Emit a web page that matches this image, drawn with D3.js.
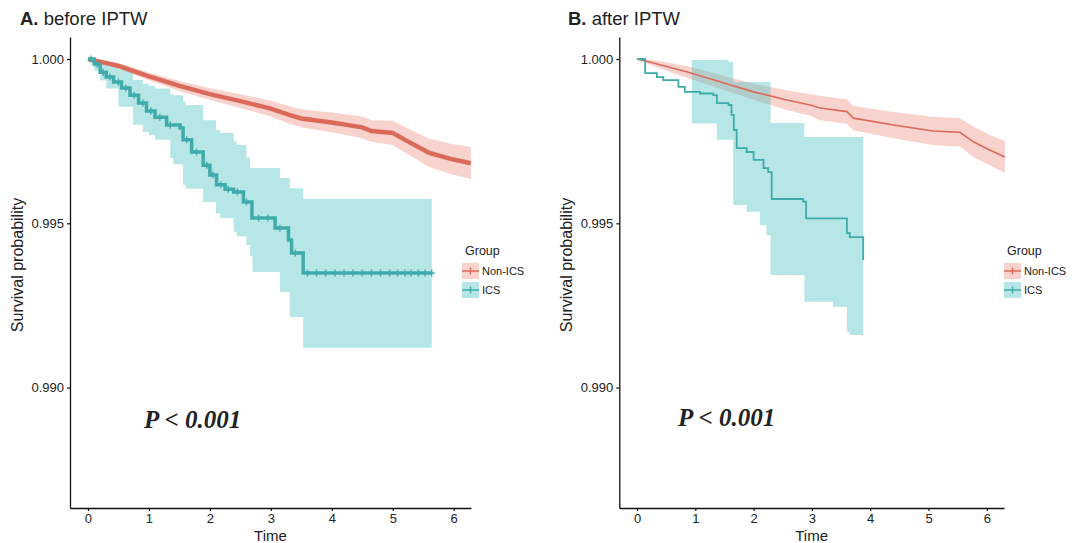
<!DOCTYPE html>
<html>
<head>
<meta charset="utf-8">
<script src="https://cdn.jsdelivr.net/npm/d3@7"></script>
<style>
  body { margin: 0; background: #fff; }
  svg { display: block; }
  text { font-family: "Liberation Sans", Arial, sans-serif; fill: #222; }
</style>
</head>
<body>
<svg width="1075" height="543"></svg>
<script>
// ---- panel A: before IPTW ----
var timeA_non = [0, 0.5, 1.0, 1.5, 2.0, 2.5, 3.0, 3.3, 3.5, 4.0, 4.5, 4.65, 5.0, 5.3, 5.6, 5.95, 6.28];
var survA_non = [1.0, .99979, .99947, .99918, .99893, .99872, .99849, .99830, .99819, .99807, .99792, .99781, .99775, .99744, .99714, .99696, .99683];
var upA_non   = [1.0, .99988, .99959, .99933, .99911, .99893, .99873, .99857, .99846, .99837, .99825, .99814, .99812, .99784, .99757, .99742, .99732];
var lowA_non  = [1.0, .99970, .99935, .99903, .99875, .99851, .99825, .99803, .99792, .99777, .99759, .99748, .99738, .99704, .99671, .99650, .99634];

var timeA_ics = [0, 0.1, 0.2, 0.3, 0.42, 0.55, 0.69, 0.83, 0.96, 1.1, 1.29, 1.51, 1.56, 1.7, 1.89, 2.0, 2.11, 2.25, 2.39, 2.55, 2.69, 3.07, 3.29, 3.34, 3.53, 5.64];
var survA_ics = [1.0, .99985, .99960, .99945, .99930, .99912, .99890, .99866, .99842, .99823, .99799, .99790, .99754, .99717, .99677, .99647, .99617, .99604, .99595, .99565, .99516, .99486, .99449, .99410, .99349, .99349];
var bandA_t   = [0, 0.1, 0.2, 0.3, 0.5, 0.74, 0.9, 1.0, 1.1, 1.35, 1.4, 1.56, 1.6, 1.89, 2.1, 2.17, 2.39, 2.44, 2.6, 2.66, 2.7, 3.15, 3.31, 3.53, 5.64];
var bandA_hi  = [1.0, .99995, .99988, .99980, .99967, .99936, .99925, .99918, .99910, .99893, .99890, .99870, .99860, .99814, .99784, .99775, .99750, .99738, .99700, .99668, .99668, .99638, .99607, .99574, .99574];
var bandA_lo  = [1.0, .99965, .99935, .99910, .99855, .99800, .99778, .99768, .99754, .99699, .99680, .99617, .99605, .99565, .99530, .99516, .99474, .99460, .99434, .99400, .99352, .99291, .99215, .99121, .99121];
var censorA_ics = [0.05, 0.15, 0.25, 0.36, 0.5, 0.62, 0.76, 0.9, 1.03, 1.18, 1.35, 1.62, 1.78, 1.95, 2.05, 2.18, 2.3, 2.45, 2.6, 2.8, 2.95, 3.15, 3.4, 3.6, 3.75, 3.9, 4.05, 4.2, 4.35, 4.5, 4.65, 4.8, 4.95, 5.08, 5.2, 5.3, 5.42, 5.53, 5.64];

// ---- panel B: after IPTW ----
var timeB_non = [0, 0.28, 0.85, 1.42, 2.0, 2.57, 2.97, 3.14, 3.6, 3.71, 4.4, 5.08, 5.54, 5.77, 6.05, 6.31];
var survB_non = [1.0, .99988, .99961, .99931, .99900, .99875, .99860, .99851, .99840, .99820, .99799, .99781, .99777, .99748, .99723, .99702];
var upB_non   = [1.0, .99997, .99979, .99952, .99924, .99905, .99893, .99888, .99877, .99857, .99839, .99824, .99820, .99794, .99769, .99751];
var lowB_non  = [1.0, .99979, .99943, .99910, .99876, .99845, .99827, .99814, .99803, .99783, .99759, .99738, .99734, .99702, .99677, .99653];

var timeB_ics = [0, 0.14, 0.34, 0.45, 0.71, 0.82, 1.08, 1.31, 1.37, 1.57, 1.62, 1.66, 1.71, 1.88, 2.0, 2.17, 2.25, 2.31, 2.85, 2.9, 3.6, 3.65, 3.88];
var survB_ics = [1.0, .99957, .99945, .99936, .99915, .99900, .99895, .99890, .99866, .99860, .99830, .99784, .99729, .99717, .99693, .99668, .99656, .99574, .99566, .99515, .99470, .99458, .99388];
var bandB_t   = [0.94, 1.37, 1.57, 1.65, 1.88, 2.11, 2.22, 2.29, 2.87, 3.36, 3.6, 3.65, 3.88];
var bandB_hi  = [.99997, .99997, .99991, .99930, .99930, .99930, .99930, .99805, .99763, .99763, .99763, .99763, .99763];
var bandB_lo  = [.99804, .99754, .99754, .99556, .99535, .99495, .99464, .99343, .99261, .99246, .99170, .99160, .99160];

var groups = ["Non-ICS", "ICS"];
var xTicks = [0, 1, 2, 3, 4, 5, 6];
var yTicks = [0.990, 0.995, 1.000];

var red = "#dc6a5b", teal = "#40abab";
var redFill = "#ec7d70", tealFill = "#52c3c3";

var svg = d3.select("svg");

function zip(t, a, b) {
    return t.map(function(d, i) { return { t: d, a: a[i], b: b ? b[i] : null }; });
}

function drawPanel(cfg) {
    var g = svg.append("g");
    var x = d3.scaleLinear().domain(cfg.xDomain).range([cfg.left, cfg.right]);
    var y = d3.scaleLinear().domain([0.986336, 1.00067]).range([508, 37]);

    var band = d3.area()
        .x(function(d) { return x(d.t); })
        .y0(function(d) { return y(d.a); })
        .y1(function(d) { return y(d.b); });
    var line = d3.line()
        .x(function(d) { return x(d.t); })
        .y(function(d) { return y(d.a); });

    // Non-ICS band + line (dense events -> near smooth)
    g.append("path")
        .attr("d", band.curve(d3.curveLinear)(zip(cfg.nonT, cfg.nonLo, cfg.nonHi)))
        .attr("fill", redFill).attr("fill-opacity", 0.35);
    // ICS band (step)
    g.append("path")
        .attr("d", band.curve(d3.curveStepAfter)(zip(cfg.icsBandT, cfg.icsLo, cfg.icsHi)))
        .attr("fill", tealFill).attr("fill-opacity", 0.42);

    g.append("path")
        .attr("d", line.curve(d3.curveLinear)(zip(cfg.nonT, cfg.nonS)))
        .attr("fill", "none").attr("stroke", red)
        .attr("stroke-width", cfg.nonWidth);
    g.append("path")
        .attr("d", line.curve(d3.curveStepAfter)(zip(cfg.icsT, cfg.icsS)))
        .attr("fill", "none").attr("stroke", teal)
        .attr("stroke-width", cfg.icsWidth);

    // censor marks
    if (cfg.censor) {
        var bis = d3.bisector(function(d) { return d; }).right;
        g.selectAll(".cens")
            .data(cfg.censor)
            .enter()
            .append("path")
            .attr("d", function(c) {
                var i = Math.max(0, bis(cfg.icsT, c) - 1);
                var cx = x(c), cy = y(cfg.icsS[i]);
                return "M" + (cx - 3) + "," + cy + "H" + (cx + 3) + "M" + cx + "," + (cy - 3.5) + "V" + (cy + 3.5);
            })
            .attr("stroke", teal).attr("stroke-width", 1.4);
    }

    // axes
    var yAxis = g.append("g")
        .attr("transform", "translate(" + cfg.left + ",0)")
        .call(d3.axisLeft(y).tickValues(yTicks).tickFormat(d3.format(".3f")).tickSize(3).tickSizeOuter(0));
    var xAxis = g.append("g")
        .attr("transform", "translate(0,508)")
        .call(d3.axisBottom(x).tickValues(xTicks).tickFormat(d3.format("d")).tickSize(3).tickSizeOuter(0));
    [xAxis, yAxis].forEach(function(a) {
        a.select(".domain").attr("stroke", "#111").attr("stroke-width", 1.3);
        a.selectAll(".tick line").attr("stroke", "#111").attr("stroke-width", 1.2);
        a.selectAll(".tick text").attr("font-size", 13).attr("fill", "#2a2a2a")
            .style("font-family", "'Liberation Sans', Arial, sans-serif");
    });

    // titles
    var title = g.append("text").attr("x", cfg.titleX).attr("y", 25).attr("font-size", 18.5);
    title.append("tspan").attr("font-weight", "bold").text(cfg.tag);
    title.append("tspan").text(" " + cfg.title);

    g.append("text")
        .attr("x", (cfg.left + cfg.right) / 2).attr("y", 541)
        .attr("text-anchor", "middle").attr("font-size", 15)
        .text("Time");
    g.append("text")
        .attr("transform", "translate(" + (cfg.left - 47) + ",265) rotate(-90)")
        .attr("text-anchor", "middle").attr("font-size", 16)
        .text("Survival probability");

    g.append("text")
        .attr("x", cfg.pX).attr("y", cfg.pY)
        .attr("font-size", 25).attr("font-weight", "bold").attr("font-style", "italic")
        .style("font-family", "'Liberation Serif', 'Times New Roman', serif")
        .attr("fill", "#000")
        .text("P < 0.001");

    // legend
    var lg = g.append("g").attr("transform", "translate(" + cfg.legX + ",0)");
    lg.append("text").attr("x", 3).attr("y", 255).attr("font-size", 12.5).text("Group");
    var rows = lg.selectAll(".row")
        .data(groups)
        .enter()
        .append("g")
        .attr("transform", function(d, i) { return "translate(0," + (271 + i * 19) + ")"; });
    rows.append("rect")
        .attr("x", 0).attr("y", -8).attr("width", 17).attr("height", 16)
        .attr("fill", function(d, i) { return i == 0 ? redFill : tealFill; })
        .attr("fill-opacity", function(d, i) { return i == 0 ? 0.35 : 0.42; });
    rows.append("path")
        .attr("d", "M0,0H17M8.5,-3.5V3.5")
        .attr("stroke", function(d, i) { return i == 0 ? red : teal; })
        .attr("stroke-width", 1.5);
    rows.append("text")
        .attr("x", 20).attr("y", 4).attr("font-size", 11)
        .text(function(d) { return d; });
}

drawPanel({
    left: 70, right: 471, xDomain: [-0.295, 6.284],
    nonT: timeA_non, nonS: survA_non, nonLo: lowA_non, nonHi: upA_non,
    icsT: timeA_ics, icsS: survA_ics,
    icsBandT: bandA_t, icsLo: bandA_lo, icsHi: bandA_hi,
    censor: censorA_ics,
    nonWidth: 4.5, icsWidth: 3.5,
    tag: "A.", title: "before IPTW", titleX: 20,
    pX: 144, pY: 428, legX: 462
});

drawPanel({
    left: 619.3, right: 1004, xDomain: [-0.304, 6.295],
    nonT: timeB_non, nonS: survB_non, nonLo: lowB_non, nonHi: upB_non,
    icsT: timeB_ics, icsS: survB_ics,
    icsBandT: bandB_t, icsLo: bandB_lo, icsHi: bandB_hi,
    censor: null,
    nonWidth: 1.6, icsWidth: 1.8,
    tag: "B.", title: "after IPTW", titleX: 568,
    pX: 678, pY: 426, legX: 1004
});
</script>
</body>
</html>
